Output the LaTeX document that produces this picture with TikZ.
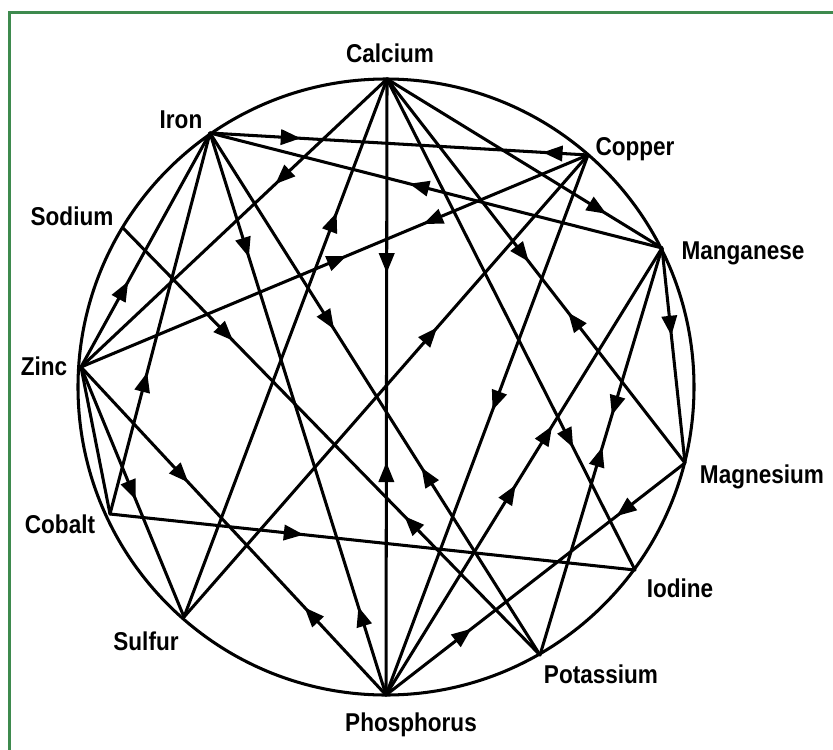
\documentclass[tikz,border=0pt]{standalone}
\usepackage{fontspec}
\usetikzlibrary{arrows.meta,decorations.markings}
\newfontfamily\labfont[FakeStretch=0.875]{Liberation Sans}
\definecolor{frameGreen}{HTML}{3E8A4E}

\tikzset{
  wheel/.style={line width=2.6pt, line cap=round},
  fwd/.style={postaction={decorate, decoration={markings,
      mark=at position #1 with {\arrow{Triangle[length=17pt,width=13pt]}}}}},
  bwd/.style={postaction={decorate, decoration={markings,
      mark=at position #1 with {\arrowreversed{Triangle[length=17pt,width=13pt]}}}}},
  lab/.style={font=\labfont\bfseries\fontsize{22}{24}\selectfont, anchor=base, inner sep=0pt}
}

\begin{document}
\begin{tikzpicture}[x=0.03cm, y=-0.03cm]
  \useasboundingbox (0,0) rectangle (833,749);

  % --------------------------------------------------------------------------
  % Frame (only top and left edges are inside the picture)
  % --------------------------------------------------------------------------
  \draw[frameGreen, line width=2.4pt] (9.5,760) -- (9.5,12.5) -- (845,12.5);

  % --------------------------------------------------------------------------
  % Wheel and element positions
  % --------------------------------------------------------------------------
  \draw[wheel] (386,387) circle [radius=308];

  \coordinate (ca) at (387,79);
  \coordinate (fe) at (210,133);
  \coordinate (na) at (123,228);
  \coordinate (zn) at (81,367);
  \coordinate (co) at (110,514);
  \coordinate (su) at (184,617);
  \coordinate (ph) at (386,695);
  \coordinate (ka) at (540,655);
  \coordinate (io) at (635,570);
  \coordinate (mg) at (685,463);
  \coordinate (mn) at (662,248);
  \coordinate (cu) at (588,155);

  \node[lab] (calab) at (390,62)  {Calcium};
  \node[lab] (felab) at (181,128) {Iron};
  \node[lab] (nalab) at (72,225)  {Sodium};
  \node[lab] (znlab) at (44,375)  {Zinc};
  \node[lab] (colab) at (60,533)  {Cobalt};
  \node[lab] (sulab) at (146,650) {Sulfur};
  \node[lab] (phlab) at (411,731) {Phosphorus};
  \node[lab] (kalab) at (601,683) {Potassium};
  \node[lab] (iolab) at (680,597) {Iodine};
  \node[lab] (mglab) at (762,483) {Magnesium};
  \node[lab] (mnlab) at (743,259) {Manganese};
  \node[lab] (culab) at (635,155) {Copper};

  % --------------------------------------------------------------------------
  % Interactions
  % --------------------------------------------------------------------------
  % Calcium
  \draw[wheel, fwd=0.315, bwd=0.622] (ca) -- (ph);
  \draw[wheel, fwd=0.365] (ca) -- (zn);
  \draw[wheel, fwd=0.752] (su) -- (ca);
  \draw[wheel, fwd=0.751] (ca) -- (io);
  \draw[wheel, fwd=0.476, bwd=0.608] (ca) -- (mg);
  \draw[wheel, fwd=0.798] (ca) -- (mn);

  % Iron
  \draw[wheel, fwd=0.240, bwd=0.880] (fe) -- (cu);
  \draw[wheel, bwd=0.441] (fe) -- (mn);
  \draw[wheel, fwd=0.366] (zn) -- (fe);
  \draw[wheel, fwd=0.372] (co) -- (fe);
  \draw[wheel, fwd=0.221, bwd=0.843] (fe) -- (ph);
  \draw[wheel, fwd=0.376, bwd=0.641] (fe) -- (ka);

  % Sodium, Zinc, Cobalt, Sulfur
  \draw[wheel, fwd=0.264, bwd=0.675] (na) -- (ka);
  \draw[wheel, fwd=0.524, bwd=0.675] (zn) -- (cu);
  \draw[wheel, fwd=0.352, bwd=0.733] (zn) -- (ph);
  \draw[wheel, fwd=0.531] (zn) -- (su);
  \draw[wheel] (zn) -- (co);
  \draw[wheel, fwd=0.369] (co) -- (io);
  \draw[wheel, fwd=0.627] (su) -- (cu);

  % Copper, Phosphorus, Potassium, Manganese
  \draw[wheel, fwd=0.473] (cu) -- (ph);
  \draw[wheel, fwd=0.470, fwd=0.602] (ph) -- (mn);
  \draw[wheel, fwd=0.286, bwd=0.771] (ph) -- (mg);
  \draw[wheel, fwd=0.511, bwd=0.589] (ka) -- (mn);
  \draw[wheel, fwd=0.408] (mn) -- (mg);

\end{tikzpicture}
\end{document}
